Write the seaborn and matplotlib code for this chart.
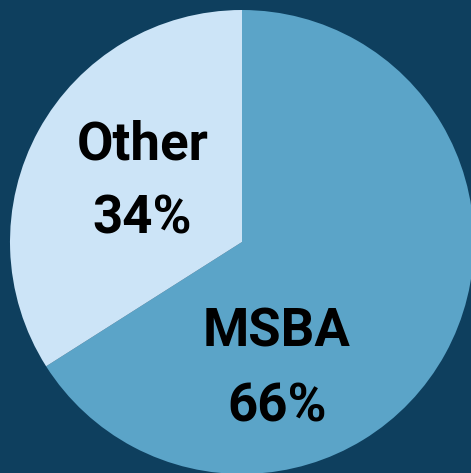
import matplotlib
matplotlib.use("Agg")
import matplotlib.pyplot as plt
import seaborn as sns

categories = ["MSBA", "Other"]
values = [66, 34]
pct_labels = ["66%", "34%"]

BG = "#0e3f5e"
COLORS = ["#5ba4c8", "#cce4f7"]

sns.set_theme(style="white")
plt.rcParams["font.family"] = ["Roboto", "DejaVu Sans"]

W, H = 471, 473
fig = plt.figure(figsize=(W / 100, H / 100), dpi=100, facecolor=BG)
cx, cy, r = 242, 473 - 242, 232
ax = fig.add_axes([(cx - r) / W, (cy - r) / H, 2 * r / W, 2 * r / H])
ax.set_facecolor(BG)
ax.pie(values, colors=COLORS, startangle=90, counterclock=False, radius=1,
       wedgeprops=dict(linewidth=0))
ax.set_xlim(-1, 1)
ax.set_ylim(-1, 1)
ax.set_aspect("equal")
ax.axis("off")

label_pos = {"MSBA": (0.15, -0.55), "Other": (-0.43, 0.26)}
for cat, pct in zip(categories, pct_labels):
    x, y = label_pos[cat]
    ax.text(x, y + 0.16, cat, ha="center", va="center", fontsize=38,
            fontweight="bold", color="black")
    ax.text(x, y - 0.16, pct, ha="center", va="center", fontsize=38,
            fontweight="bold", color="black")

fig.savefig("out.png", dpi=100, facecolor=BG)
